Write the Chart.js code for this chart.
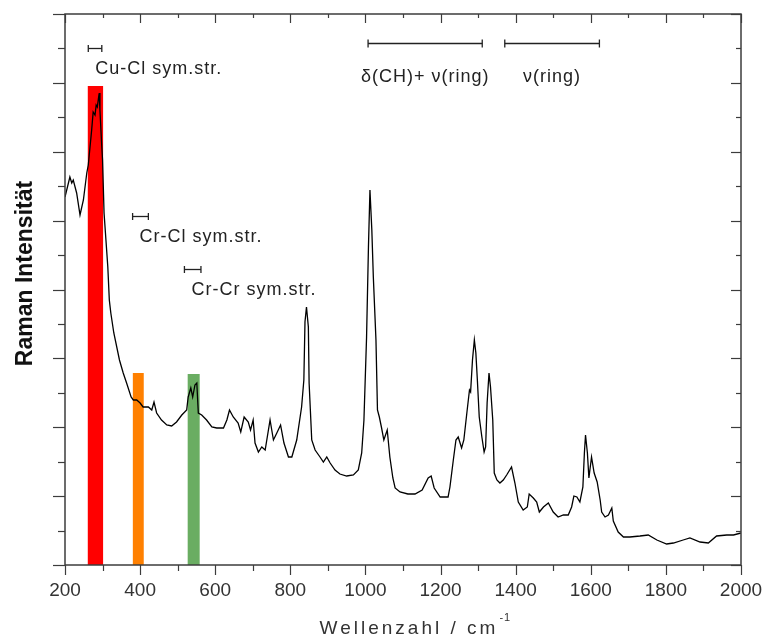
<!DOCTYPE html>
<html lang="de">
<head>
<meta charset="utf-8">
<title>Raman-Spektrum</title>
<script src="https://cdn.jsdelivr.net/npm/chart.js@4.4.1/dist/chart.umd.min.js"></script>
<style>
    html, body { margin: 0; padding: 0; background: #fff; }
    #wrap { width: 764px; height: 637px; position: relative; }
</style>
</head>
<body>
<div id="wrap"><canvas id="ramanChart"></canvas></div>
<script>
// Spectrum (wavenumber in cm-1, intensity in arbitrary units)
const ramanShift = [200, 213, 218, 222, 231, 240, 249, 258, 262, 271, 275, 280, 283, 286, 291, 293, 298, 300, 304, 309,
    314, 318, 322, 330, 345, 355, 364, 376, 382, 391, 400, 408, 422, 431, 437, 444, 457, 471, 484, 497,
    511, 524, 528, 535, 540, 546, 551, 555, 564, 577, 591, 604, 622, 631, 638, 648, 661, 668, 677, 688,
    694, 701, 706, 715, 724, 733, 746, 755, 764, 774, 783, 795, 804, 817, 830, 836, 839, 843, 848, 850,
    857, 866, 879, 888, 897, 906, 919, 932, 950, 968, 981, 990, 996, 1003, 1008, 1012, 1017, 1021, 1028, 1032,
    1037, 1043, 1049, 1058, 1065, 1073, 1079, 1092, 1113, 1132, 1151, 1167, 1175, 1183, 1199, 1220, 1225, 1234, 1241, 1247,
    1256, 1262, 1270, 1277, 1280, 1285, 1290, 1294, 1298, 1303, 1310, 1316, 1320, 1324, 1329, 1333, 1339, 1343, 1350, 1358,
    1367, 1376, 1389, 1398, 1407, 1420, 1431, 1436, 1447, 1456, 1463, 1474, 1487, 1500, 1513, 1527, 1540, 1549, 1555, 1563,
    1571, 1579, 1583, 1586, 1591, 1595, 1602, 1609, 1617, 1625, 1629, 1638, 1647, 1656, 1660, 1673, 1687, 1704, 1731, 1753,
    1776, 1802, 1820, 1846, 1864, 1891, 1913, 1935, 1962, 1980, 2000];
const ramanIntensity = [368, 388, 382, 385, 372, 350, 365, 392, 400, 435, 453, 450, 460, 458, 472, 455, 418, 405, 352, 325,
    298, 265, 252, 232, 205, 192, 182, 168, 165, 165, 162, 158, 158, 155, 163, 152, 145, 140, 139, 143,
    150, 155, 168, 177, 168, 180, 182, 152, 150, 145, 138, 137, 137, 145, 155, 148, 142, 133, 148, 143,
    135, 145, 122, 113, 118, 115, 145, 125, 132, 140, 122, 108, 108, 125, 158, 185, 243, 258, 238, 182,
    125, 115, 108, 103, 108, 102, 95, 91, 89, 90, 95, 112, 145, 228, 318, 375, 335, 288, 225, 155,
    148, 137, 125, 135, 108, 87, 77, 73, 71, 71, 75, 87, 89, 77, 68, 68, 78, 105, 125, 128,
    117, 125, 152, 175, 173, 205, 225, 212, 185, 148, 128, 113, 118, 162, 192, 178, 145, 92, 85, 82,
    85, 90, 98, 82, 63, 55, 58, 71, 67, 63, 53, 58, 62, 53, 48, 50, 50, 58, 69, 68,
    63, 78, 112, 130, 112, 87, 108, 92, 83, 65, 53, 48, 50, 57, 44, 33, 28, 28, 29, 30,
    25, 21, 22, 25, 27, 23, 22, 29, 30, 30, 32];

// Highlighted bands
const bandFrom = [260, 380, 526];
const bandTo = [302, 410, 559];
const bandTop = [479, 192, 191];
const bandColors = ['#ff0000', '#ff8000', '#6aad62'];

// Assignment brackets
const bracketLabels = ['Cu-Cl sym.str.', 'Cr-Cl sym.str.', 'Cr-Cr sym.str.', 'δ(CH)+ ν(ring)', 'ν(ring)'];
const bracketFrom = [262, 380, 518, 1007, 1371];
const bracketTo = [298, 422, 562, 1311, 1623];
const bracketLevel = [517, 349, 296, 522, 522];

const xTickValues = [200, 400, 600, 800, 1000, 1200, 1400, 1600, 1800, 2000];
const yMax = 551;

const FONT = '"Liberation Sans", Arial, sans-serif';

const bandDatasets = bandFrom.map(function (from, i) {
    return {
        type: 'line',
        data: [
            { x: from, y: 0 }, { x: from, y: bandTop[i] },
            { x: bandTo[i], y: bandTop[i] }, { x: bandTo[i], y: 0 }
        ],
        borderWidth: 0,
        pointRadius: 0,
        backgroundColor: bandColors[i],
        fill: 'origin',
        order: 2
    };
});

// Frame, tick marks, brackets and axis titles
const framePlugin = {
    id: 'frame',
    afterDatasetsDraw(chart) {
        const ctx = chart.ctx;
        const a = chart.chartArea;
        const x = chart.scales.x;
        const y = chart.scales.y;

        function seg(x1, y1, x2, y2) {
            ctx.beginPath();
            ctx.moveTo(x1, y1);
            ctx.lineTo(x2, y2);
            ctx.stroke();
        }

        ctx.save();
        ctx.strokeStyle = '#3c3c3c';
        ctx.lineWidth = 1.5;
        ctx.strokeRect(a.left, a.top, a.right - a.left, a.bottom - a.top);

        ctx.lineWidth = 1.2;
        for (let v = 200; v <= 2000; v += 100) {
            const px = Math.round(x.getPixelForValue(v)) + 0.5;
            const major = v % 200 === 0;
            seg(px, a.bottom, px, a.bottom + (major ? 10 : 6));
            seg(px, a.top, px, a.top + (major ? 9 : 4));
        }
        for (let i = 0; i <= 16; i++) {
            const py = Math.round(y.getPixelForValue(i * yMax / 16)) + 0.5;
            const major = i % 2 === 0;
            seg(a.left - (major ? 12 : 7), py, a.left, py);
            seg(a.right - (major ? 10 : 5), py, a.right, py);
        }

        // brackets with labels
        ctx.strokeStyle = '#222';
        ctx.fillStyle = '#222';
        ctx.lineWidth = 1.3;
        ctx.font = '18px ' + FONT;
        ctx.letterSpacing = '1px';
        ctx.textBaseline = 'alphabetic';
        bracketLabels.forEach(function (label, i) {
            const x1 = x.getPixelForValue(bracketFrom[i]);
            const x2 = x.getPixelForValue(bracketTo[i]);
            const py = Math.round(y.getPixelForValue(bracketLevel[i])) + 0.5;
            const wide = bracketTo[i] - bracketFrom[i] > 100;
            const cap = wide ? 4 : 3.5;
            seg(x1, py, x2, py);
            seg(x1, py - cap, x1, py + cap);
            seg(x2, py - cap, x2, py + cap);
            if (wide) {
                ctx.textAlign = 'center';
                ctx.fillText(label, (x1 + x2) / 2, py + 38);
            } else {
                ctx.textAlign = 'left';
                ctx.fillText(label, x1 + 7, py + 25);
            }
        });

        // x axis title with superscript
        ctx.fillStyle = '#333';
        ctx.font = '19px ' + FONT;
        ctx.letterSpacing = '3px';
        ctx.textAlign = 'left';
        const main = 'Wellenzahl / cm';
        const w = ctx.measureText(main).width;
        const sx = (a.left + a.right) / 2 + 6 - w / 2;
        ctx.fillText(main, sx, 634);
        ctx.font = '11px ' + FONT;
        ctx.letterSpacing = '1px';
        ctx.fillText('-1', sx + w + 1, 621);

        // y axis title
        ctx.translate(32, (a.top + a.bottom) / 2 - 16);
        ctx.rotate(-Math.PI / 2);
        ctx.fillStyle = '#111';
        ctx.font = 'bold 23px ' + FONT;
        ctx.letterSpacing = '0px';
        ctx.textAlign = 'center';
        ctx.fillText('Raman Intensität', 0, 0);
        ctx.restore();
    }
};

new Chart(document.getElementById('ramanChart'), {
    type: 'line',
    data: {
        datasets: [{
            data: ramanShift.map(function (s, i) { return { x: s, y: ramanIntensity[i] }; }),
            borderColor: '#000',
            borderWidth: 1.3,
            pointRadius: 0,
            tension: 0,
            fill: false,
            order: 1
        }].concat(bandDatasets)
    },
    options: {
        responsive: true,
        maintainAspectRatio: false,
        animation: false,
        events: [],
        layout: { padding: { left: 65, right: 23, top: 14, bottom: 0 } },
        plugins: {
            legend: { display: false },
            tooltip: { enabled: false }
        },
        scales: {
            x: {
                type: 'linear',
                min: 200,
                max: 2000,
                afterBuildTicks: function (scale) {
                    scale.ticks = xTickValues.map(function (v) { return { value: v }; });
                },
                afterFit: function (scale) {
                    scale.paddingLeft = 0;
                    scale.paddingRight = 0;
                    scale.height = 72;
                },
                grid: { display: false, drawTicks: false },
                border: { display: false },
                ticks: {
                    padding: 14,
                    color: '#333',
                    font: { family: FONT, size: 19 },
                    maxRotation: 0,
                    callback: function (value) { return String(value); }
                }
            },
            y: {
                type: 'linear',
                display: false,
                min: 0,
                max: yMax
            }
        }
    },
    plugins: [framePlugin]
});
</script>
</body>
</html>
